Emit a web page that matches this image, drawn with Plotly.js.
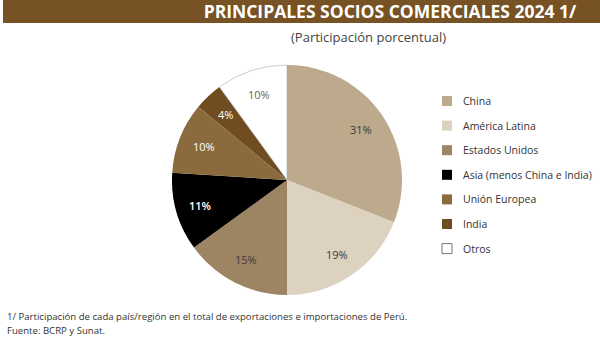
<!DOCTYPE html>
<html><head><meta charset="utf-8">
<script src="https://cdn.plot.ly/plotly-3.0.1.min.js"></script>
<style>html,body{margin:0;padding:0;background:#fff}</style>
</head><body>
<div id="chart" style="width:600px;height:338px"></div>
<script>
const labels = ["China", "América Latina", "Estados Unidos", "Asia (menos China e India)", "Unión Europea", "India", "Otros"];
const values = [31, 19, 15, 11, 10, 4, 10];
const colors = ["#bda98b", "#ddd1bf", "#9d8463", "#000000", "#8b6b3e", "#6f4d20", "#ffffff"];
const textColors = ["#3a3a3a", "#3a3a3a", "#3a3a3a", "#ffffff", "#ffffff", "#ffffff", "#666666"];

const W = 600, H = 338;
const CX = 287, CY = 180, R = 115;
const shapes = [{type:"rect", xref:"paper", yref:"paper", x0:3/W, x1:1, y0:1-23/H, y1:1, fillcolor:"#775224", line:{width:0}, layer:"below"}];
const annotations = [
  {text:"(Participación porcentual)", xref:"paper", yref:"paper", x:368/W, y:1-37/H, xanchor:"center", yanchor:"middle", showarrow:false, font:{family:"Open Sans", size:13, color:"#444"}},
  {text:"1/ Participación de cada país/región en el total de exportaciones e importaciones de Perú.", xref:"paper", yref:"paper", x:5/W, y:1-316/H, xanchor:"left", yanchor:"middle", showarrow:false, font:{family:"Open Sans", size:9.6, color:"#333"}},
  {text:"Fuente: BCRP y Sunat.", xref:"paper", yref:"paper", x:5/W, y:1-330/H, xanchor:"left", yanchor:"middle", showarrow:false, font:{family:"Open Sans", size:9.6, color:"#333"}}
];
// custom legend
labels.forEach((lab, i) => {
  const yc = 101 + i * 24.6;
  shapes.push({type:"rect", xref:"paper", yref:"paper", x0:442/W, x1:452/W, y0:1-(yc+5)/H, y1:1-(yc-5)/H, fillcolor:colors[i], line:{width: colors[i]==="#ffffff" ? 1 : 0, color:"#777"}});
  annotations.push({text:lab, xref:"paper", yref:"paper", x:461/W, y:1-yc/H, xanchor:"left", yanchor:"middle", showarrow:false, font:{family:"Open Sans", size:10.5, color:"#333"}});
});
// slice labels along each slice bisector
const total = values.reduce((a, b) => a + b, 0);
let cum = 0;
values.forEach((v, i) => {
  const mid = (cum + v / 2) / total * 2 * Math.PI;
  cum += v;
  const rr = 0.78 * R;
  const px = CX + rr * Math.sin(mid), py = CY - rr * Math.cos(mid);
  annotations.push({text: v + "%", xref:"paper", yref:"paper", x:px/W, y:1-py/H, xanchor:"center", yanchor:"middle", showarrow:false,
    font:{family:"Open Sans", size:11, color:textColors[i], weight: i===3 ? 600 : 400}});
});

const trace = {
  type:"pie", labels:labels, values:values, sort:false, direction:"clockwise", rotation:0,
  marker:{colors:colors, line:{color:["#fff","#fff","#fff","#fff","#fff","#fff","#aaaaaa"], width:[0,0,0,0,0,0,0.6]}},
  textinfo:"none",
  hoverinfo:"label+percent", showlegend:false,
  domain:{x:[172/W, 402/W], y:[1-295/H, 1-65/H]}
};

const layout = {
  width:W, height:H, margin:{l:0, r:0, t:0, b:0}, paper_bgcolor:"#fff",
  title:{text:"<b>PRINCIPALES SOCIOS COMERCIALES 2024 1/</b>", x:390/W, xanchor:"center", y:1-12/H, yanchor:"middle", font:{family:"Open Sans", size:17.5, color:"#ffffff"}},
  shapes:shapes, annotations:annotations, showlegend:false
};
Plotly.newPlot("chart", [trace], layout, {displayModeBar:false, staticPlot:true});
</script>
</body></html>
